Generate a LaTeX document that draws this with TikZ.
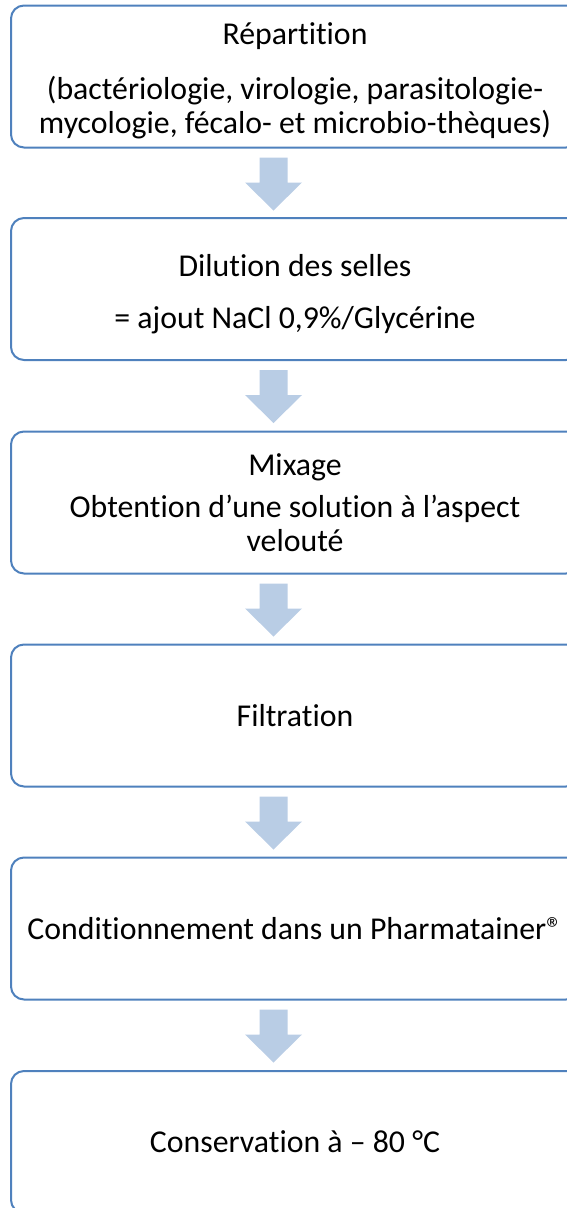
\documentclass[tikz,border=0pt]{standalone}
\usepackage{fontspec}
\setmainfont{Carlito}[Ligatures={NoCommon,NoContextual,NoRequired},RawFeature={-liga;-clig;-calt}]
\definecolor{boxblue}{HTML}{4F81BD}
\definecolor{arrowfill}{HTML}{B9CDE5}
\tikzset{
  stepbox/.style={draw=boxblue, line width=2pt, rounded corners=13pt, fill=white,
    minimum width=568pt, minimum height=142pt, inner sep=0pt},
  steptext/.style={align=center, inner sep=0pt, font=\fontsize{31.8}{34}\selectfont},
  downarr/.pic={\fill[arrowfill] (-14pt,0pt) -- (14pt,0pt) -- (14pt,-25pt) -- (28.5pt,-25pt)
     -- (0pt,-53pt) -- (-28.5pt,-25pt) -- (-14pt,-25pt) -- cycle;}
}
\begin{document}
\begin{tikzpicture}[x=1pt,y=-1pt]
\useasboundingbox (0,0) rectangle (567,1208);
\clip (0,0) rectangle (567,1208);
\node[stepbox] (b1) at (295,76.5) {};
\node[stepbox] (b2) at (295,289) {};
\node[stepbox] (b3) at (295,502.5) {};
\node[stepbox] (b4) at (295,715.5) {};
\node[stepbox] (b5) at (295,928.5) {};
\node[stepbox] (b6) at (295,1142) {};
\node[steptext] (t1) at ([yshift=-4pt]b1.center) {Répartition\\[21pt](bactériologie, virologie, parasitologie-\\mycologie, fécalo- et microbio-thèques)};
\node[steptext] (t2) at ([yshift=-5pt]b2.center) {Dilution des selles\\[18pt]= ajout NaCl 0,9\%/Glycérine};
\node[steptext] (t3) at ([yshift=-0.5pt]b3.center) {Mixage\\[8pt]Obtention d’une solution à l’aspect\\velouté};
\node[steptext] (t4) at (b4.center) {Filtration};
\node[steptext] (t5) at (b5.center) {Conditionnement dans un Pharmatainer®};
\node[steptext] (t6) at (b6.center) {Conservation à – 80 °C};
\foreach \a in {b1,b2,b3,b4,b5}{
  \pic at ([xshift=-21.5pt,yshift=-9pt]\a.south) {downarr};
}
\end{tikzpicture}
\end{document}
